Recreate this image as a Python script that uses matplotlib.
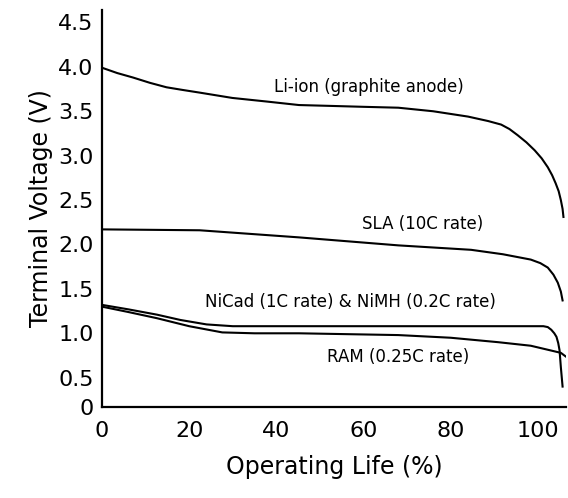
import matplotlib
matplotlib.use('Agg')
from matplotlib import pyplot as plt

# Data (operating life %, terminal voltage V)
liion_x = [0, 3.5, 7.1, 11, 14.8, 18.5, 22.4, 29.9, 37.7, 45.2, 52.7, 60, 68, 76, 84, 88.6,
           91.6, 93.5, 95.4, 97.4, 99.3, 100.9, 102.3, 103.3, 104.1, 104.8, 105.3, 105.7, 105.9]
liion_y = [3.99, 3.93, 3.88, 3.82, 3.77, 3.74, 3.71, 3.65, 3.61, 3.57, 3.56, 3.55, 3.54, 3.50, 3.44, 3.39,
           3.35, 3.30, 3.23, 3.15, 3.06, 2.97, 2.87, 2.78, 2.69, 2.60, 2.50, 2.40, 2.31]

sla_x = [0, 22.4, 45.2, 68, 84.7, 92, 98.4, 100.6, 102.3, 103.6, 104.6, 105.3, 105.7]
sla_y = [2.17, 2.16, 2.08, 1.99, 1.94, 1.89, 1.83, 1.79, 1.74, 1.66, 1.57, 1.47, 1.37]

nicad_x = [0, 6, 12.6, 18, 24, 30, 43, 101.3, 102.3, 103.1, 103.8, 104.3, 104.7, 105, 105.3, 105.7]
nicad_y = [1.32, 1.27, 1.21, 1.15, 1.10, 1.08, 1.08, 1.08, 1.07, 1.04, 1.00, 0.96, 0.89, 0.81, 0.62, 0.40]

ram_x = [0, 6, 12.6, 20, 27.6, 35, 45.2, 68, 80, 90.9, 98.4, 105.3, 106.4]
ram_y = [1.30, 1.24, 1.17, 1.08, 1.01, 1.00, 1.00, 0.98, 0.95, 0.90, 0.86, 0.78, 0.74]

x_ticks = [0, 20, 40, 60, 80, 100]
y_ticks = [0.17, 0.5, 1.0, 1.5, 2.0, 2.5, 3.0, 3.5, 4.0, 4.5]
y_tick_labels = ['0', '0.5', '1.0', '1.5', '2.0', '2.5', '3.0', '3.5', '4.0', '4.5']

fig = plt.figure(figsize=(5.68, 4.98), dpi=100)
ax = fig.add_axes([0.1796, 0.1827, 0.817, 0.7972])

for xs, ys in [(liion_x, liion_y), (sla_x, sla_y), (nicad_x, nicad_y), (ram_x, ram_y)]:
    ax.plot(xs, ys, color='black', linewidth=1.5, solid_joinstyle='round')

# Curve labels
ax.text(61.2, 3.77, 'Li-ion (graphite anode)', fontsize=12, ha='center', va='center')
ax.text(73.5, 2.23, 'SLA (10C rate)', fontsize=12, ha='center', va='center')
ax.text(57, 1.35, 'NiCad (1C rate) & NiMH (0.2C rate)', fontsize=12, ha='center', va='center')
ax.text(68, 0.73, 'RAM (0.25C rate)', fontsize=12, ha='center', va='center')

ax.set_xlim(0, 106.5)
ax.set_ylim(0.17, 4.64)
ax.set_xticks(x_ticks)
ax.set_yticks(y_ticks)
ax.set_yticklabels(y_tick_labels)
ax.tick_params(axis='both', length=0, labelsize=16)
ax.tick_params(axis='x', pad=10)
ax.tick_params(axis='y', pad=6)

ax.spines['top'].set_visible(False)
ax.spines['right'].set_visible(False)
ax.spines['left'].set_linewidth(1.6)
ax.spines['bottom'].set_linewidth(1.6)

ax.set_xlabel('Operating Life (%)', fontsize=17, labelpad=10)
ax.set_ylabel('Terminal Voltage (V)', fontsize=17, labelpad=4)

plt.savefig('out.png', dpi=100)
